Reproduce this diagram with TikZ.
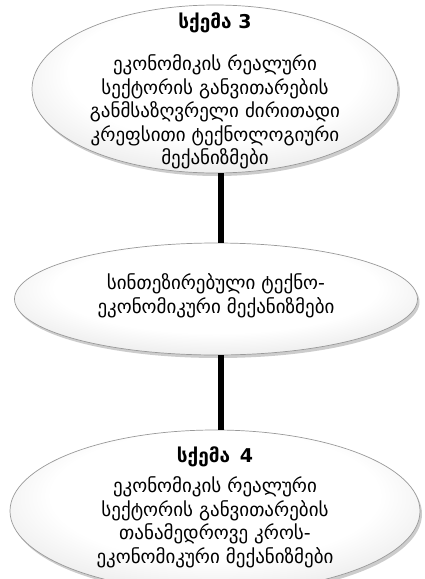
\documentclass[tikz,border=0pt]{standalone}
\usepackage{fontspec}
\setmainfont{DejaVu Sans}
\usetikzlibrary{positioning,shapes.geometric,shadows}
\pgfdeclareradialshading{ovalshade}{\pgfpoint{0bp}{8bp}}{color(0bp)=(white); color(20bp)=(white); color(36bp)=(gray!25); color(46bp)=(gray!45); color(50bp)=(gray!75)}

\begin{document}
\begin{tikzpicture}[x=1pt,y=-1pt,
    oval/.style={ellipse,draw=gray!80,line width=0.7pt,shading=ovalshade,
        drop shadow={opacity=0.4,shadow xshift=2pt,shadow yshift=-3pt},inner sep=0pt},
    txt/.style={align=center,inner sep=0pt,font=\fontsize{19}{23.5}\selectfont},
    link/.style={line width=6pt}]
            \useasboundingbox (0,0) rectangle (425,579);
            \clip (0,0) rectangle (425,579);
            \node [oval,minimum width=366,minimum height=168] (sqema3) at (215,89) {};
            \node [oval,minimum width=403,minimum height=112] (sinteziri) at (216,299) {};
            \node [oval,minimum width=410,minimum height=162] (sqema4) at (215,511) {};
            \draw [link] ([xshift=6pt]sqema3.south)--([xshift=5pt]sinteziri.north) ;
            \draw [link] ([xshift=5pt]sinteziri.south)--([xshift=6pt]sqema4.north) ;
            \node [txt] (sqema3t) at (215,91)
                {{\bfseries სქემა 3}\\[19pt]ეკონომიკის რეალური\\სექტორის განვითარების\\განმსაზღვრელი ძირითადი\\კრეფსითი ტექნოლოგიური\\მექანიზმები};
            \node [txt] (sinterizit) at (216,296)
                {სინთეზირებული ტექნო-\\ეკონომიკური მექანიზმები};
            \node [txt] (sqema4t) at (215,507)
                {{\bfseries სქემა\, 4}\\[7pt]ეკონომიკის რეალური\\სექტორის განვითარების\\თანამედროვე კროს-\\ეკონომიკური მექანიზმები};
            % \draw [dotted](0,0) grid (425,579);
        \end{tikzpicture}
\end{document}
